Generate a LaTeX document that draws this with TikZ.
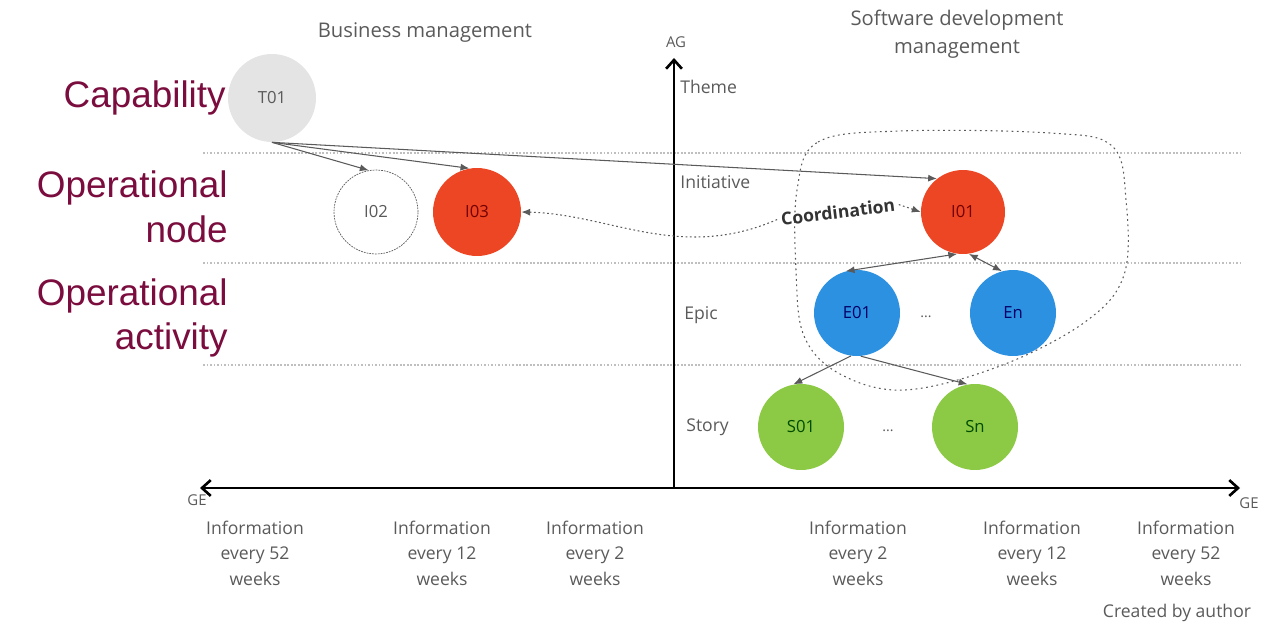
\documentclass[tikz,border=0pt]{standalone}
\usepackage{fontspec}
\setmainfont{Open Sans}
\newfontfamily\capfont{Liberation Sans}
\usetikzlibrary{arrows.meta}

\definecolor{ink}{HTML}{5A5A5A}
\definecolor{maroon}{HTML}{7A0C3E}
\definecolor{redfill}{HTML}{EC4624}
\definecolor{bluefill}{HTML}{2D91E2}
\definecolor{greenfill}{HTML}{8CC944}
\definecolor{greyfill}{HTML}{E4E4E4}

\begin{document}
\begin{tikzpicture}[x=0.02cm,y=-0.02cm,
  lbl/.style={text=ink,font=\fontsize{10}{12}\selectfont},
  head/.style={text=ink,font=\fontsize{11.5}{16}\selectfont,align=center},
  side/.style={text=maroon,font=\capfont\fontsize{21}{25.5}\selectfont,align=right,anchor=east,inner sep=0pt},
  ball/.style={circle,minimum size=1.72cm,inner sep=0pt,font=\fontsize{9.5}{11}\selectfont},
  link/.style={draw=ink,line width=0.6pt,-{Latex[length=5pt,width=4pt]}},
  axis/.style={line width=1.5pt,black,{Straight Barb[length=5pt,width=9pt]}-{Straight Barb[length=5pt,width=9pt]}}]
  \useasboundingbox (0,0) rectangle (1266,625);

  % Level separators
  \foreach \y in {153,263,365} {
    \draw[black!25,line width=0.6pt,dash pattern=on 1pt off 1pt] (203,\y) -- (1240,\y);
  }

  % Axes
  \coordinate (origin) at (674,488);
  \coordinate (ge left) at (200,488);
  \coordinate (ge right) at (1240,488);
  \coordinate (ag top) at (674,58);
  \draw[axis] (ge left) -- (ge right);
  \draw[line width=1.5pt,-{Straight Barb[length=5pt,width=9pt]}] (origin) -- (ag top);
  \node[lbl,font=\fontsize{8.5}{10}\selectfont] (ag) at (676,42) {AG};
  \node[lbl,font=\fontsize{8.5}{10}\selectfont] (ge1) at (197,500) {GE};
  \node[lbl,font=\fontsize{8.5}{10}\selectfont] (ge2) at (1249,503) {GE};

  % Headers
  \node[head] (business) at (425,33) {Business management};
  \node[head] (software) at (957,34) {Software development\\management};

  % Left captions
  \node[side] (capability) at (226,98) {Capability};
  \node[side] (opnode) at (228,207) {Operational\\node};
  \node[side] (opact) at (228,318) {Operational\\activity};

  % Level names
  \node[lbl,anchor=west,inner sep=0pt] (theme) at (680,87) {Theme};
  \node[lbl,anchor=west,inner sep=0pt] (initiative) at (680,182) {Initiative};
  \node[lbl,anchor=west,inner sep=0pt] (epic) at (684,315) {Epic};
  \node[lbl,anchor=west,inner sep=0pt] (story) at (686,427) {Story};

  % Circles
  \node[ball,fill=greyfill,minimum size=1.76cm,text=ink] (T01) at (272,98) {T01};
  \node[ball,draw=ink,line width=0.4pt,dash pattern=on 1pt off 0.6pt,fill=white,minimum size=1.68cm,text=ink] (I02) at (376,212) {I02};
  \node[ball,fill=redfill,minimum size=1.76cm,text=red!45!black] (I03) at (477,212) {I03};
  \node[ball,fill=redfill,minimum size=1.68cm,text=red!45!black] (I01) at (963,212) {I01};
  \node[ball,fill=bluefill,text=blue!40!black] (E01) at (857,313) {E01};
  \node[ball,fill=bluefill,text=blue!40!black] (En) at (1013,313) {En};
  \node[ball,fill=greenfill,text=green!30!black] (S01) at (801,427) {S01};
  \node[ball,fill=greenfill,text=green!30!black] (Sn) at (975,427) {Sn};
  \node[lbl,font=\fontsize{8}{10}\selectfont] (edots) at (926,317) {...};
  \node[lbl,font=\fontsize{8}{10}\selectfont] (sdots) at (888,431) {...};

  % Coordination area
  \draw[ink,line width=0.6pt,dash pattern=on 1pt off 2pt] plot[smooth cycle,tension=0.6] coordinates {
    (797,190) (818,142) (900,131) (1050,133) (1112,146) (1126,200) (1124,275)
    (1085,322) (1000,366) (905,390) (840,374) (804,336) (796,270)};

  % Links
  \draw[link] (T01.south) -- (I02.100);
  \draw[link] (T01.south) -- (I03.100);
  \draw[link] (T01.south) -- (I01.128);
  \draw[link,{Latex[length=5pt,width=4pt]}-{Latex[length=5pt,width=4pt]}] (I01.262) -- (E01.105);
  \draw[link,{Latex[length=5pt,width=4pt]}-{Latex[length=5pt,width=4pt]}] (I01.278) -- (En.105);
  \draw[link] (E01.262) -- (S01.100);
  \draw[link] (E01.275) -- (Sn.100);

  % Coordination
  \node[font=\bfseries\fontsize{10}{12}\selectfont,text=black!80,rotate=7,inner sep=2pt] (coord) at (838,212) {Coordination};
  \draw[ink,line width=0.6pt,dash pattern=on 1pt off 1.5pt,{Latex[length=5pt,width=4pt]}-] (I03.east) .. controls (610,214) and (680,262) .. (coord.west);
  \draw[ink,line width=0.6pt,dash pattern=on 1pt off 1.5pt,-{Latex[length=5pt,width=4pt]}] (coord.east) -- (I01.west);

  % Time scale
  \foreach \x/\n in {255/52,442/12,595/2,858/2,1032/12,1186/52} {
    \node[lbl,align=center,font=\fontsize{10}{14.5}\selectfont] (info\x) at (\x,553) {Information\\every \n\\weeks};
  }
  \node[lbl] (author) at (1177,613) {Created by author};
\end{tikzpicture}
\end{document}
